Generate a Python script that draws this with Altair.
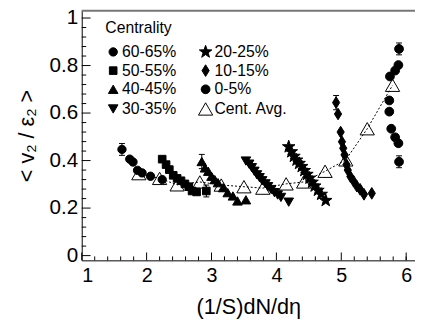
import altair as alt
import pandas as pd

# ---- data ----
x_6065 = [1.62, 1.74, 1.79, 1.86, 1.93, 2.06, 2.24]
y_6065 = [0.447, 0.406, 0.394, 0.359, 0.348, 0.334, 0.320]
e_6065 = [0.025, 0, 0, 0, 0, 0, 0]

x_5055 = [2.24, 2.30, 2.35, 2.41, 2.47, 2.53, 2.59, 2.65, 2.70, 2.77, 2.92]
y_5055 = [0.406, 0.383, 0.362, 0.338, 0.325, 0.315, 0.302, 0.290, 0.272, 0.268, 0.272]
e_5055 = [0, 0, 0, 0, 0, 0, 0, 0, 0, 0, 0.025]

x_4045 = [2.85, 2.90, 2.95, 3.00, 3.05, 3.10, 3.18, 3.25, 3.33, 3.40, 3.53]
y_4045 = [0.396, 0.369, 0.355, 0.334, 0.320, 0.307, 0.286, 0.265, 0.251, 0.230, 0.235]
e_4045 = [0.03, 0, 0, 0, 0, 0, 0, 0, 0, 0, 0]

x_3035 = [3.53, 3.58, 3.62, 3.66, 3.70, 3.74, 3.78, 3.83, 3.87, 3.92, 3.97, 4.02, 4.07, 4.19]
y_3035 = [0.398, 0.385, 0.370, 0.355, 0.340, 0.328, 0.315, 0.302, 0.290, 0.278, 0.265, 0.255, 0.245, 0.225]
e_3035 = [0] * 14

x_2025 = [4.19, 4.23, 4.27, 4.31, 4.35, 4.39, 4.43, 4.47, 4.51, 4.55, 4.59, 4.64, 4.69, 4.76]
y_2025 = [0.458, 0.437, 0.418, 0.402, 0.388, 0.375, 0.358, 0.342, 0.326, 0.309, 0.293, 0.275, 0.258, 0.232]
e_2025 = [0] * 14

x_1015 = [4.92, 4.95, 4.99, 5.01, 5.03, 5.05, 5.08, 5.10, 5.14, 5.19, 5.24, 5.29, 5.35, 5.47]
y_1015 = [0.644, 0.596, 0.520, 0.479, 0.452, 0.424, 0.383, 0.360, 0.333, 0.313, 0.292, 0.279, 0.258, 0.262]
e_1015 = [0.03, 0, 0, 0, 0, 0, 0, 0, 0, 0, 0, 0, 0, 0]

x_005 = [5.89, 5.88, 5.83, 5.75, 5.74, 5.74, 5.77, 5.83, 5.88, 5.89]
y_005 = [0.870, 0.802, 0.779, 0.754, 0.653, 0.606, 0.534, 0.498, 0.473, 0.395]
e_005 = [0.025, 0, 0, 0, 0, 0, 0, 0, 0, 0.025]

x_avg = [1.88, 2.20, 2.47, 2.82, 3.15, 3.50, 3.79, 4.15, 4.42, 4.75, 5.07, 5.40, 5.79]
y_avg = [0.345, 0.325, 0.298, 0.310, 0.297, 0.290, 0.284, 0.302, 0.310, 0.355, 0.403, 0.534, 0.717]
e_avg = [0] * 13

# legend order (column-major, two columns)
names = ["60-65%", "50-55%", "40-45%", "30-35%", "20-25%", "10-15%", "0-5%", "Cent. Avg."]

x_major = [1, 2, 3, 4, 5, 6]
x_minor = [1.2, 1.4, 1.6, 1.8, 2.2, 2.4, 2.6, 2.8, 3.2, 3.4, 3.6, 3.8,
           4.2, 4.4, 4.6, 4.8, 5.2, 5.4, 5.6, 5.8, 6.0]
y_major = [0, 0.2, 0.4, 0.6, 0.8, 1.0]
y_minor = [0.04, 0.08, 0.12, 0.16, 0.24, 0.28, 0.32, 0.36, 0.44, 0.48, 0.52, 0.56,
           0.64, 0.68, 0.72, 0.76, 0.84, 0.88, 0.92, 0.96]

# ---- build tables ----
series = [
    ("60-65%", x_6065, y_6065, e_6065),
    ("50-55%", x_5055, y_5055, e_5055),
    ("40-45%", x_4045, y_4045, e_4045),
    ("30-35%", x_3035, y_3035, e_3035),
    ("20-25%", x_2025, y_2025, e_2025),
    ("10-15%", x_1015, y_1015, e_1015),
    ("0-5%", x_005, y_005, e_005),
    ("Cent. Avg.", x_avg, y_avg, e_avg),
]
rows = []
for name, xs, ys, es in series:
    for a, b, c in zip(xs, ys, es):
        rows.append({"series": name, "x": a, "y": b, "err": c})
df = pd.DataFrame(rows)
df["lo"] = df["y"] - df["err"]
df["hi"] = df["y"] + df["err"]
err_df = df[df["err"] > 0]
avg_df = df[df["series"] == "Cent. Avg."]

STAR = ("M0,-1L0.235,-0.324L0.951,-0.309L0.38,0.124L0.588,0.809L0,0.4"
        "L-0.588,0.809L-0.38,0.124L-0.951,-0.309L-0.235,-0.324Z")
DIAMOND = "M0,-1L0.62,0L0,1L-0.62,0Z"
shape_range = ["circle", "square", "triangle-up", "triangle-down", STAR, DIAMOND, "circle", "triangle-up"]
size_range = [72, 60, 95, 95, 180, 140, 80, 210]
fill_range = ["black"] * 7 + ["transparent"]
stroke_range = ["black"] * 8

W, H = 339, 254
FONT = "Liberation Sans"

xscale = alt.Scale(domain=[1, 6.136], nice=False, zero=False)
yscale = alt.Scale(domain=[-0.02, 1.031], nice=False, zero=False)

xaxis = alt.Axis(title="(1/S)dN/dη", values=x_major, format="d", ticks=False, grid=False,
                 domainColor="black", domainWidth=1, labelFontSize=20, labelPadding=6,
                 titleFontSize=22, titleX=W / 2, titleY=47, titleAlign="center",
                 titleBaseline="middle")
yaxis = alt.Axis(title="< v₂ / ε₂ >", values=y_major, format="~g", ticks=False, grid=False,
                 domainColor="black", domainWidth=1, labelFontSize=21, labelPadding=4,
                 titleFontSize=22, titleX=-56, titleY=H / 2, titleAngle=270,
                 titleAlign="center", titleBaseline="middle")

leg = alt.Legend(title="Centrality", orient="none", legendX=24, legendY=10, columns=2,
                 columnPadding=19, rowPadding=3, labelOffset=1, titlePadding=8,
                 labelFont=FONT, labelFontSize=16, titleFont=FONT, titleFontSize=16,
                 titleFontWeight="normal", labelColor="black", titleColor="black",
                 symbolStrokeWidth=1, padding=0)

X = alt.X("x:Q", scale=xscale, axis=xaxis)
Y = alt.Y("y:Q", scale=yscale, axis=yaxis)

avg_line = alt.Chart(avg_df).mark_line(color="black", strokeWidth=1, strokeDash=[2, 2]).encode(
    x=X, y=Y, order="x:Q")

points = alt.Chart(df).mark_point(strokeWidth=1, opacity=1).encode(
    x=X, y=Y,
    shape=alt.Shape("series:N", scale=alt.Scale(domain=names, range=shape_range), legend=leg),
    size=alt.Size("series:N", scale=alt.Scale(type="ordinal", domain=names, range=size_range), legend=leg),
    fill=alt.Fill("series:N", scale=alt.Scale(domain=names, range=fill_range), legend=leg),
    stroke=alt.Stroke("series:N", scale=alt.Scale(domain=names, range=stroke_range), legend=leg),
)

err_rule = alt.Chart(err_df).mark_rule(color="black", strokeWidth=1).encode(
    x=X, y=alt.Y("lo:Q", scale=yscale, axis=yaxis), y2="hi:Q")
cap_lo = alt.Chart(err_df).mark_tick(color="black", thickness=1, size=6, orient="horizontal", opacity=1).encode(
    x=X, y=alt.Y("lo:Q", scale=yscale, axis=yaxis))
cap_hi = alt.Chart(err_df).mark_tick(color="black", thickness=1, size=6, orient="horizontal", opacity=1).encode(
    x=X, y=alt.Y("hi:Q", scale=yscale, axis=yaxis))

xmaj = alt.Chart(pd.DataFrame({"x": x_major})).mark_rule(color="black", strokeWidth=1).encode(
    x=X, y=alt.value(H), y2=alt.value(H - 8))
xmin = alt.Chart(pd.DataFrame({"x": x_minor})).mark_rule(color="black", strokeWidth=1).encode(
    x=X, y=alt.value(H), y2=alt.value(H - 4))
ymaj = alt.Chart(pd.DataFrame({"y": y_major})).mark_rule(color="black", strokeWidth=1).encode(
    y=Y, x=alt.value(0), x2=alt.value(9))
ymin = alt.Chart(pd.DataFrame({"y": y_minor})).mark_rule(color="black", strokeWidth=1).encode(
    y=Y, x=alt.value(0), x2=alt.value(4.5))

top_border = alt.Chart(pd.DataFrame({"y": [1.031]})).mark_rule(color="#777777", strokeWidth=2).encode(
    y=Y, x=alt.value(0), x2=alt.value(W))

chart = alt.layer(
    top_border, xmaj, xmin, ymaj, ymin, avg_line, err_rule, cap_lo, cap_hi, points
).properties(
    width=W, height=H,
    autosize=alt.AutoSizeParams(type="none"),
    padding={"left": 75, "top": 0, "right": 0, "bottom": 60},
).configure_view(stroke=None).configure_axis(
    labelFont=FONT, titleFont=FONT, labelColor="black", titleColor="black",
    titleFontWeight="normal"
)

chart.save("out.html", embed_options={"renderer": "svg", "actions": False})
